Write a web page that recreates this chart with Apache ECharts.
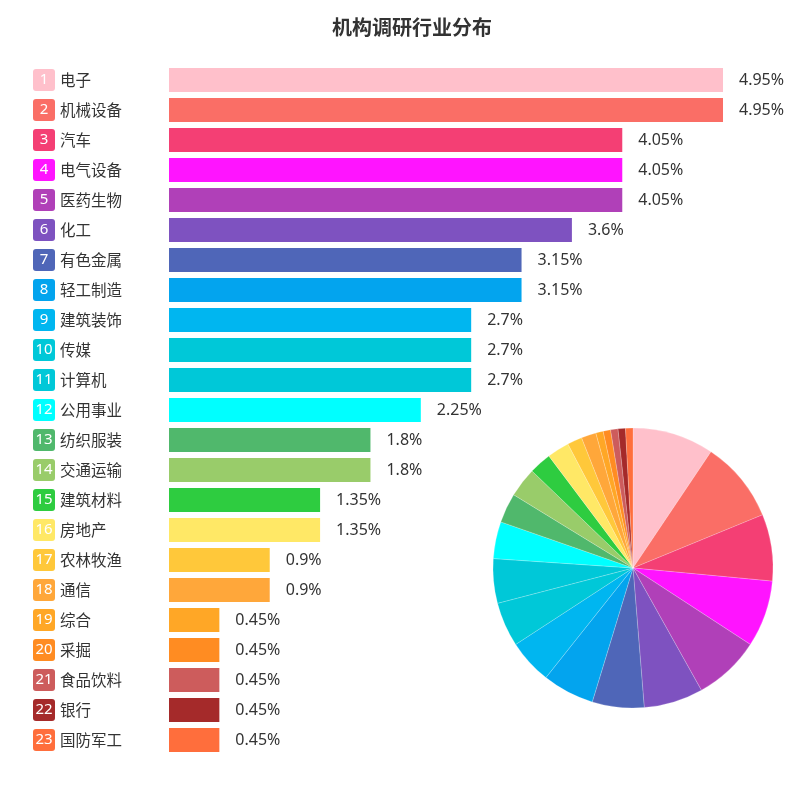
<!DOCTYPE html>
<html>
<head>
<meta charset="utf-8">
<script src="https://cdn.jsdelivr.net/npm/echarts@6/dist/echarts.min.js"></script>
<style>html,body{margin:0;padding:0;background:#fff}#c{width:800px;height:800px}</style>
</head>
<body>
<div id="c"></div>
<script>
var categories = ['电子','机械设备','汽车','电气设备','医药生物','化工','有色金属','轻工制造','建筑装饰','传媒','计算机','公用事业','纺织服装','交通运输','建筑材料','房地产','农林牧渔','通信','综合','采掘','食品饮料','银行','国防军工'];
var values = [4.95,4.95,4.05,4.05,4.05,3.6,3.15,3.15,2.7,2.7,2.7,2.25,1.8,1.8,1.35,1.35,0.9,0.9,0.45,0.45,0.45,0.45,0.45];
var colors = ['#FFC0CB','#FA6E66','#F43F74','#FF14FF','#B040B8','#7E52C0','#4F66B8','#03A4EE','#00B6F0','#00C8D8','#00C8D8','#00FFFF','#50B86C','#99CC6A','#2ECC40','#FFE866','#FFC83A','#FFA73A','#FFA726','#FF8C22','#CD5C5C','#A52A2A','#FF6E3C'];
var titleText = '机构调研行业分布';

var rich = { name: { fontSize: 15.5, color: '#333', fontFamily: 'Noto Sans CJK SC', padding: [0, 0, 0, 5] } };
colors.forEach(function (c, i) {
  rich['b' + i] = { width: 22, height: 22, lineHeight: 22, align: 'center', backgroundColor: c, borderRadius: 3, color: '#fff', fontSize: 15, fontFamily: 'Noto Sans' };
});

var chart = echarts.init(document.getElementById('c'));
chart.setOption({
  animation: false,
  backgroundColor: '#fff',
  title: { text: titleText, left: 327, top: 12, textStyle: { fontSize: 20, fontWeight: 'bold', color: '#333', fontFamily: 'Noto Sans CJK SC' } },
  grid: { left: 169, right: 77, top: 65, bottom: 45 },
  xAxis: { type: 'value', min: 0, max: 4.95, show: false },
  yAxis: {
    type: 'category', inverse: true, data: categories,
    axisLine: { show: false }, axisTick: { show: false },
    axisLabel: {
      align: 'left', margin: 136, rich: rich,
      formatter: function (v, i) { return '{b' + i + '|' + (i + 1) + '}{name|' + v + '}'; }
    }
  },
  series: [{
    type: 'bar', barCategoryGap: '20%',
    data: values.map(function (v, i) { return { value: v, itemStyle: { color: colors[i] } }; }),
    label: { show: true, position: 'right', distance: 16, fontSize: 16, color: '#333', fontFamily: 'Noto Sans', formatter: '{c}%' }
  }, {
    type: 'pie', center: [633, 568], radius: 140, startAngle: 90, clockwise: true,
    label: { show: false }, labelLine: { show: false },
    itemStyle: { borderColor: 'rgba(255,255,255,0.4)', borderWidth: 0.5 },
    data: values.map(function (v, i) { return { name: categories[i], value: v, itemStyle: { color: colors[i] } }; })
  }]
});
</script>
</body>
</html>
